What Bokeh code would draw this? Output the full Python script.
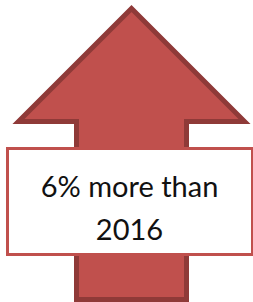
from bokeh.plotting import figure
from bokeh.models import Range1d
from bokeh.core.properties import value
from bokeh.embed import file_html
from bokeh.resources import INLINE

# Content
pct_change = 6
base_year = 2016
label_lines = [f"{pct_change}% more than", f"{base_year}"]

# Layout (pixel coordinates, y grows downward)
W, H = 253, 302
p = figure(width=W, height=H, x_range=Range1d(0, W), y_range=Range1d(H, 0),
           output_backend="svg", toolbar_location=None, min_border=0)
p.axis.visible = False
p.grid.visible = False
p.outline_line_color = None
p.background_fill_color = "white"
p.border_fill_color = "white"

# Up arrow shape
tip_x, tip_y = 131, 8
head_y = 121
head_half = 113
shaft_l, shaft_r = 76, 186
shaft_bottom = 299
arrow_x = [tip_x, tip_x + head_half, shaft_r, shaft_r, shaft_l, shaft_l, tip_x - head_half]
arrow_y = [tip_y, head_y, head_y, shaft_bottom, shaft_bottom, head_y, head_y]
p.patch(arrow_x, arrow_y, fill_color="#C0504D", line_color="#8F3A38", line_width=5,
        line_join="miter")

# Label box
p.quad(left=[7], right=[252], top=[148], bottom=[254], fill_color="white",
       line_color="#C0504D", line_width=3, line_join="miter")

# Text
p.text(x=[129, 129], y=[185, 229], text=label_lines, text_align="center",
       text_baseline="alphabetic", text_font=value("Lato"), text_font_size="29px",
       text_color="#111111")

open("out.html", "w").write(file_html(p, INLINE))
